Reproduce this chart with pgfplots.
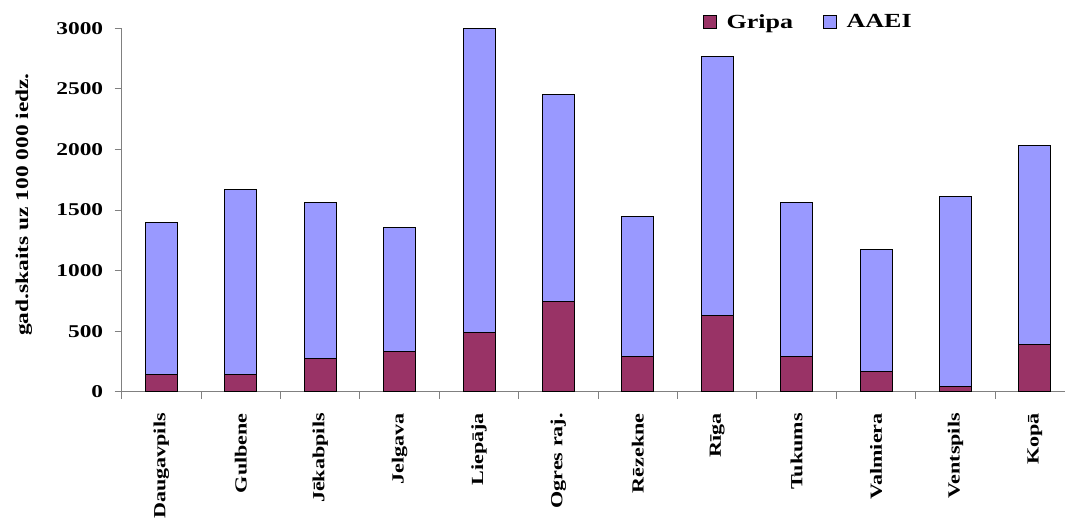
\documentclass[border=0pt]{standalone}
\usepackage{fontspec}
\setmainfont{Liberation Serif}[FakeStretch=1.3]
\usepackage{pgfplots}
\pgfplotsset{compat=1.18}
\definecolor{gripa}{HTML}{993366}
\definecolor{aaei}{HTML}{9999FF}
\definecolor{axgray}{HTML}{808080}
\begin{document}
\begin{tikzpicture}
\begin{axis}[
  name=ax,
  scale only axis,
  width=943.3bp, height=363.4bp,
  ybar stacked, bar width=32bp,
  xmin=-0.5, xmax=11.38,
  ymin=0, ymax=3000,
  clip=false,
  axis lines*=left,
  axis line style={axgray, line width=1bp},
  every tick/.style={axgray, line width=1bp},
  tick align=outside,
  major tick length=7bp,
  minor tick length=7bp,
  ytick={0,500,...,3000},
  xtick={0,...,11},
  xticklabels={Daugavpils,Gulbene,Jēkabpils,Jelgava,Liepāja,Ogres raj.,Rēzekne,Rīga,Tukums,Valmiera,Ventspils,Kopā},
  major x tick style={draw=none},
  minor xtick={-0.5,0.5,...,10.5},
  minor x tick style={draw=axgray, line width=1bp},
  /pgf/number format/assume math mode=true,
  /pgf/number format/set thousands separator={},
  yticklabel style={font=\fontsize{18bp}{20bp}\selectfont\bfseries, xshift=-8bp},
  xticklabel style={font=\fontsize{17bp}{19bp}\selectfont\bfseries, rotate=90, anchor=east, xshift=-11bp},
  ylabel={gad.skaits uz 100 000 iedz.},
  ylabel style={font=\fontsize{18bp}{20bp}\selectfont\bfseries, at={(axis description cs:-0.1036,0.515)}, anchor=center},
  legend style={at={(axis description cs:0.728,1.017)}, anchor=center, draw=none, fill=none,
    font=\fontsize{20bp}{22bp}\selectfont\bfseries,
    /tikz/every even column/.append style={column sep=28bp}},
  legend columns=2,
  legend image code/.code={\draw[#1,draw=black,line width=1bp] (0bp,-6.5bp) rectangle (13bp,6.5bp); \path[draw=none,fill=none] (0bp,0bp) -- (21bp,0bp);},
]
\addplot[fill=gripa, draw=black, line width=1bp] coordinates {
(0,146) (1,146) (2,273) (3,336) (4,487) (5,747) (6,287) (7,625) (8,287) (9,163) (10,47) (11,388)};
\addplot[fill=aaei, draw=black, line width=1bp] coordinates {
(0,1250) (1,1522) (2,1288) (3,1022) (4,2513) (5,1706) (6,1159) (7,2142) (8,1274) (9,1010) (10,1561) (11,1644)};
\legend{Gripa,AAEI}
\end{axis}
\pgfresetboundingbox
\path[use as bounding box] ([shift={(-121.7bp,-127.3bp)}]ax.south west) rectangle ([shift={(0bp,28.3bp)}]ax.north east);
\end{tikzpicture}
\end{document}
